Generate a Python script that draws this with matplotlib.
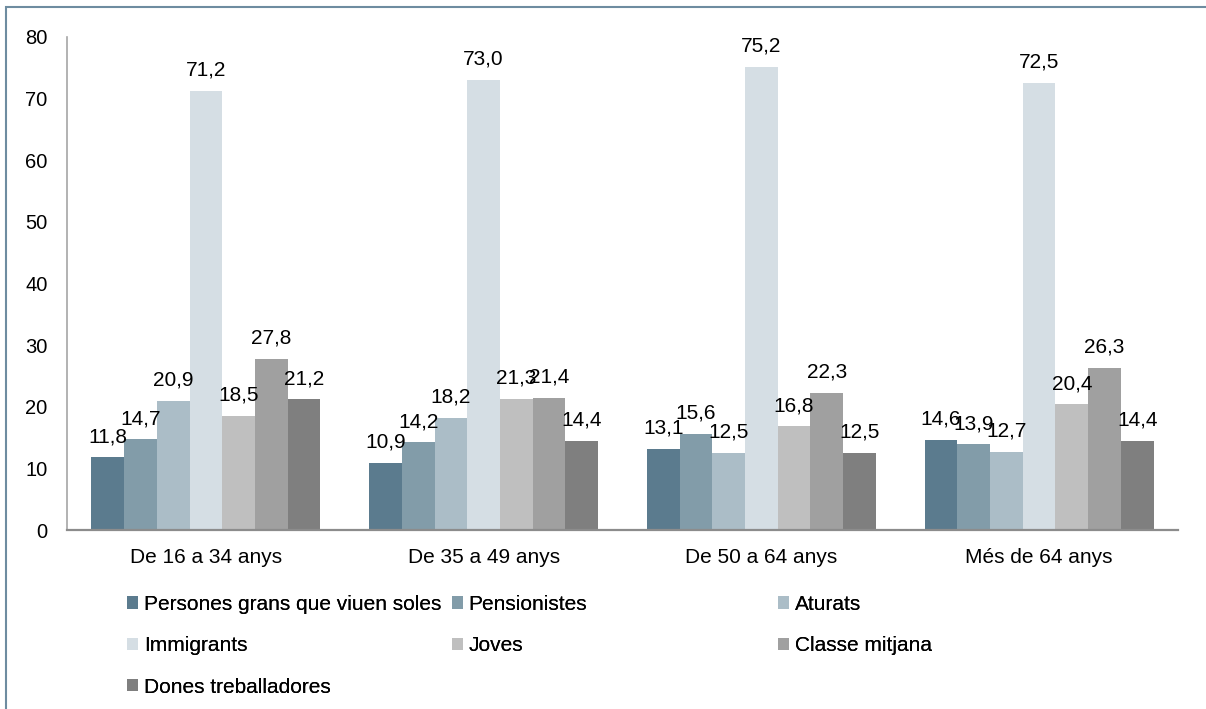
import numpy as np
import matplotlib
matplotlib.use("Agg")
import matplotlib.pyplot as plt
from matplotlib.patches import Rectangle, Patch

plt.rcParams['font.family'] = ['Liberation Sans', 'DejaVu Sans']

# Data
categories = ["De 16 a 34 anys", "De 35 a 49 anys", "De 50 a 64 anys", "Més de 64 anys"]
series_names = ["Persones grans que viuen soles", "Pensionistes", "Aturats",
                "Immigrants", "Joves", "Classe mitjana", "Dones treballadores"]
persones_grans = [11.8, 10.9, 13.1, 14.6]
pensionistes = [14.7, 14.2, 15.6, 13.9]
aturats = [20.9, 18.2, 12.5, 12.7]
immigrants = [71.2, 73.0, 75.2, 72.5]
joves = [18.5, 21.3, 16.8, 20.4]
classe_mitjana = [27.8, 21.4, 22.3, 26.3]
dones_treballadores = [21.2, 14.4, 12.5, 14.4]
yticks = [0, 10, 20, 30, 40, 50, 60, 70, 80]

series = [persones_grans, pensionistes, aturats, immigrants, joves,
          classe_mitjana, dones_treballadores]
colors = ['#5B7B8E', '#829CA9', '#ABBDC7', '#D5DEE4', '#BFBFBF', '#A0A0A0', '#7F7F7F']

W, H = 1206, 709
fig = plt.figure(figsize=(W / 100, H / 100), dpi=100)
ax = fig.add_axes([67 / W, 1 - 530 / H, 1111 / W, 493 / H])

x = np.arange(len(categories))
n = len(series)
bw = 0.825 / n
for i, (vals, c) in enumerate(zip(series, colors)):
    pos = x - 0.825 / 2 + bw * (i + 0.5)
    ax.bar(pos, vals, width=bw, color=c, edgecolor='none', label=series_names[i])
    for px, v in zip(pos, vals):
        ax.annotate(f"{v:.1f}".replace('.', ','), (px, v), xytext=(0, 11),
                    textcoords='offset points', ha='center', va='baseline',
                    fontsize=15, color='black')

ax.set_xlim(-0.5, len(categories) - 0.5)
ax.set_ylim(0, 80)
ax.set_yticks(yticks)
ax.set_xticks(x)
ax.set_xticklabels(categories, fontsize=15)
ax.tick_params(axis='y', length=0, pad=14, labelsize=14.5)
ax.tick_params(axis='x', length=0, pad=13)
for s in ['top', 'right']:
    ax.spines[s].set_visible(False)
ax.spines['left'].set_color('#A6A6A6')
ax.spines['left'].set_linewidth(1.2)
ax.spines['bottom'].set_color('#8C8C8C')
ax.spines['bottom'].set_linewidth(1.6)

# legend: three columns placed by hand, filled row by row
handles = [Patch(facecolor=c, edgecolor='none') for c in colors]
col_x = [127, 452, 778]
for j in range(3):
    idx = list(range(j, n, 3))
    lg = fig.legend([handles[k] for k in idx], [series_names[k] for k in idx],
                    loc='upper left', bbox_to_anchor=(col_x[j] / W, 1 - 595 / H),
                    frameon=False, fontsize=15, handlelength=0.55, handleheight=0.55,
                    handletextpad=0.25, labelspacing=1.07, borderpad=0, borderaxespad=0)
    fig.add_artist(lg)

# outer frame
fig.add_artist(Rectangle((6 / W, -0.1), 1.2, 1 - 7 / H + 0.1, transform=fig.transFigure,
                         fill=False, edgecolor='#6E8CA0', linewidth=1.5))

fig.savefig('out.png', dpi=100)
